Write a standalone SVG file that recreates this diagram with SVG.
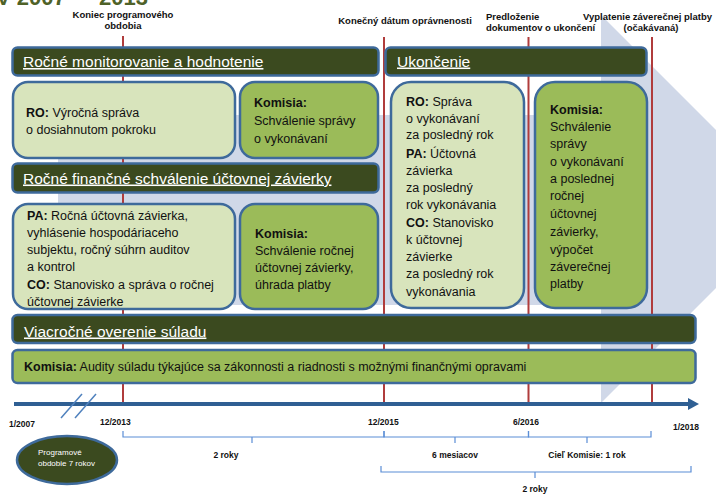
<svg xmlns="http://www.w3.org/2000/svg" width="716" height="494" viewBox="0 0 716 494">
<defs>
<style>
.bar{fill:#3b4a1f;stroke:#3e6a9b;stroke-width:2.5}
.lt{fill:#d8e4bc;stroke:#3e6a9b;stroke-width:2.5}
.gr{fill:#9bbb59;stroke:#3e6a9b;stroke-width:2.5}
.bt{font-family:"Liberation Sans",Arial,sans-serif;font-size:15.5px;fill:#ffffff;text-decoration:underline}
.t{font-family:"Liberation Sans",Arial,sans-serif;font-size:12.5px;fill:#111111}
.b{font-weight:bold}
.red{stroke:#b03c3c;stroke-width:2;fill:none}
.lbl{font-family:"Liberation Sans",Arial,sans-serif;font-weight:bold;font-size:9.5px;fill:#111111}
.tl{font-family:"Liberation Sans",Arial,sans-serif;font-weight:bold;font-size:8.5px;fill:#111111}
.br{stroke:#5b8ed6;stroke-width:1.2;fill:none}
</style>
</defs>
<rect width="716" height="494" fill="#ffffff"/>
<polygon points="58,115 601,115 601,15 795,209 601,403 601,305 58,305" fill="#d0d8e8"/>
<text x="-4" y="4.5" font-family="Liberation Sans, Arial, sans-serif" font-weight="bold" font-size="22" fill="#4f6228">V 2007<tspan x="70">–</tspan><tspan x="99">2013</tspan></text>

<g id="top-labels">
<text class="lbl" x="123" y="17.5" text-anchor="middle">Koniec programového</text>
<text class="lbl" x="123" y="29" text-anchor="middle">obdobia</text>
<text class="lbl" x="405" y="23.5" text-anchor="middle">Konečný dátum oprávnenosti</text>
<text class="lbl" x="486" y="19.5">Predloženie</text>
<text class="lbl" x="486" y="31">dokumentov o ukončení</text>
<text class="lbl" x="583" y="19.5">Vyplatenie záverečnej platby</text>
<text class="lbl" x="651" y="31" text-anchor="middle">(očakávaná)</text>
</g>

<g id="connectors">
<line class="red" x1="123" y1="36" x2="123" y2="404"/>
<line class="red" x1="384" y1="37" x2="384" y2="404"/>
<line class="red" x1="528.5" y1="37" x2="528.5" y2="404"/>
<line class="red" x1="652" y1="37" x2="652" y2="404"/>
<line x1="14" y1="404" x2="690" y2="404" stroke="#2f5f93" stroke-width="4"/>
<polygon points="688,398 699,404 688,410" fill="#2f5f93"/>
<line x1="61" y1="418" x2="82" y2="394" stroke="#4f81bd" stroke-width="1.5"/>
<line x1="75" y1="418" x2="96" y2="394" stroke="#4f81bd" stroke-width="1.5"/>
<path class="br" d="M123,431 V437 H384 V431 M252,437 V443"/>
<path class="br" d="M384,431 V437 H528.5 V431 M455,437 V443"/>
<path class="br" d="M528.5,431 V437 H651 V431 M587,437 V443"/>
<path class="br" d="M381,466 V472 H691 V466 M535,472 V478"/>
</g>

<g id="bar-rocne-monitorovanie">
<rect class="bar" x="12.5" y="47.5" width="366" height="28" rx="5"/>
<text class="bt" x="23" y="67">Ročné monitorovanie a hodnotenie</text>
</g>
<g id="bar-ukoncenie">
<rect class="bar" x="385.5" y="47.5" width="261" height="28" rx="5"/>
<text class="bt" x="397" y="66.5">Ukončenie</text>
</g>
<g id="box-ro-vyrocna">
<rect class="lt" x="13" y="82" width="222" height="76" rx="15"/>
<text class="t" x="26" y="116.5"><tspan class="b">RO:</tspan> Výročná správa</text>
<text class="t" x="26" y="133.5">o dosiahnutom pokroku</text>
</g>
<g id="box-komisia-sprava">
<rect class="gr" x="240" y="82" width="138" height="76" rx="15"/>
<text class="t b" x="254" y="106.5">Komisia:</text>
<text class="t" x="254" y="124.5">Schválenie správy</text>
<text class="t" x="254" y="142.5">o vykonávaní</text>
</g>
<g id="bar-rocne-financne">
<rect class="bar" x="12.5" y="163.5" width="366" height="29" rx="5"/>
<text class="bt" x="23" y="183.5">Ročné finančné schválenie účtovnej závierky</text>
</g>
<g id="box-pa-co">
<rect class="lt" x="13" y="204" width="222" height="105" rx="15"/>
<text class="t" x="27" y="219.5"><tspan class="b">PA:</tspan> Ročná účtovná závierka,</text>
<text class="t" x="27" y="236.5">vyhlásenie hospodáriaceho</text>
<text class="t" x="27" y="253.5">subjektu, ročný súhrn auditov</text>
<text class="t" x="27" y="271">a kontrol</text>
<text class="t" x="27" y="288.5"><tspan class="b">CO:</tspan> Stanovisko a správa o ročnej</text>
<text class="t" x="27" y="305.5">účtovnej závierke</text>
</g>
<g id="box-komisia-zavierka">
<rect class="gr" x="240" y="204" width="138" height="105" rx="15"/>
<text class="t b" x="255" y="237.5">Komisia:</text>
<text class="t" x="255" y="254.5">Schválenie ročnej</text>
<text class="t" x="255" y="271.5">účtovnej závierky,</text>
<text class="t" x="255" y="288.5">úhrada platby</text>
</g>
<g id="box-ro-pa-co-final">
<rect class="lt" x="391" y="82" width="133" height="226" rx="20"/>
<text class="t" x="406" y="105.5"><tspan class="b">RO:</tspan> Správa</text>
<text class="t" x="406" y="122.5">o vykonávaní</text>
<text class="t" x="406" y="139">za posledný rok</text>
<text class="t" x="406" y="157.5"><tspan class="b">PA:</tspan> Účtovná</text>
<text class="t" x="406" y="174.5">závierka</text>
<text class="t" x="406" y="191.5">za posledný</text>
<text class="t" x="406" y="208.5">rok vykonávania</text>
<text class="t" x="406" y="226.5"><tspan class="b">CO:</tspan> Stanovisko</text>
<text class="t" x="406" y="243.5">k účtovnej</text>
<text class="t" x="406" y="260.5">závierke</text>
<text class="t" x="406" y="277.5">za posledný rok</text>
<text class="t" x="406" y="295.5">vykonávania</text>
</g>
<g id="box-komisia-final">
<rect class="gr" x="535" y="82" width="112" height="226" rx="20"/>
<text class="t b" x="550" y="113.5">Komisia:</text>
<text class="t" x="550" y="130.5">Schválenie</text>
<text class="t" x="550" y="147.5">správy</text>
<text class="t" x="550" y="165.5">o vykonávaní</text>
<text class="t" x="550" y="182.5">a poslednej</text>
<text class="t" x="550" y="199.5">ročnej</text>
<text class="t" x="550" y="217.5">účtovnej</text>
<text class="t" x="550" y="235.5">závierky,</text>
<text class="t" x="550" y="253.5">výpočet</text>
<text class="t" x="550" y="270.5">záverečnej</text>
<text class="t" x="550" y="287.5">platby</text>
</g>
<g id="bar-viacrocne">
<rect class="bar" x="12.5" y="315" width="683" height="28" rx="5"/>
<text class="bt" x="24" y="336.5">Viacročné overenie súladu</text>
</g>
<g id="box-komisia-audity">
<rect class="gr" x="12.5" y="350" width="683" height="33" rx="5"/>
<text class="t" x="24" y="371" font-size="12"><tspan class="b">Komisia:</tspan> Audity súladu týkajúce sa zákonnosti a riadnosti s možnými finančnými opravami</text>
</g>

<g id="timeline-labels">
<text class="tl" x="9" y="427">1/2007</text>
<text class="tl" x="100" y="425">12/2013</text>
<text class="tl" x="368" y="425">12/2015</text>
<text class="tl" x="513" y="425">6/2016</text>
<text class="tl" x="673" y="430">1/2018</text>
<text class="tl" x="226" y="458" text-anchor="middle">2 roky</text>
<text class="tl" x="455" y="458" text-anchor="middle">6 mesiacov</text>
<text class="tl" x="587" y="458" text-anchor="middle">Cieľ Komisie: 1 rok</text>
<text class="tl" x="535" y="492" text-anchor="middle">2 roky</text>
</g>
<g id="ellipse-programove-obdobie">
<ellipse cx="67" cy="460" rx="50" ry="24" fill="#3b4a1f" stroke="#3e6a9b" stroke-width="2.5"/>
<text x="38" y="455" font-family="Liberation Sans, Arial, sans-serif" font-size="8" fill="#ffffff">Programové</text>
<text x="38" y="466" font-family="Liberation Sans, Arial, sans-serif" font-size="8" fill="#ffffff">obdobie 7 rokov</text>
</g>
</svg>
